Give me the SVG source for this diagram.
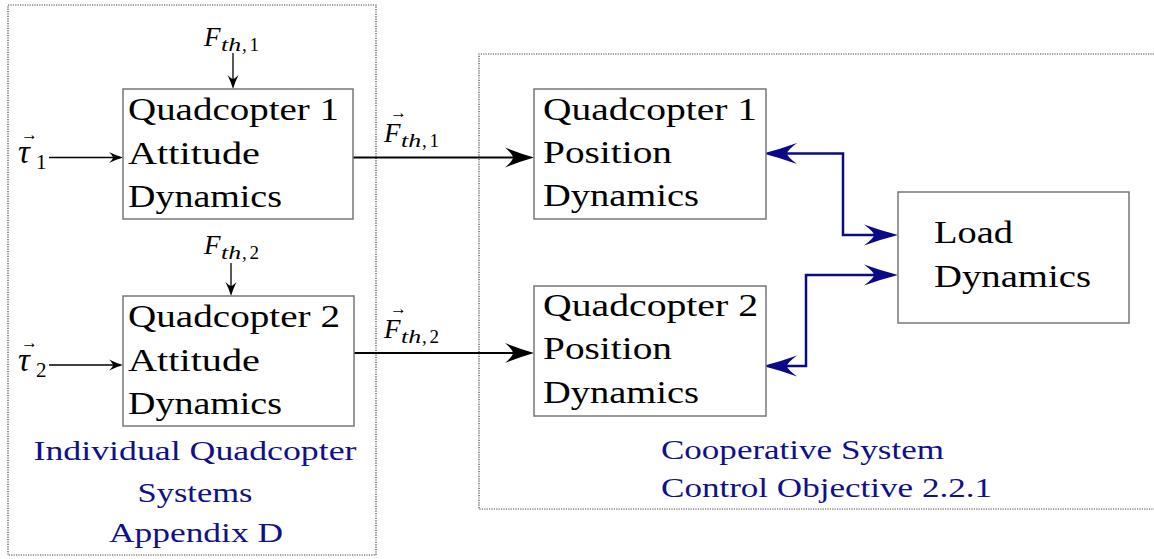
<svg xmlns="http://www.w3.org/2000/svg" width="1154" height="559" viewBox="0 0 1154 559" font-family="'Liberation Serif', serif">
<defs>
<style>
.box{fill:#fff;stroke:#777;stroke-width:1.5}
.frame{fill:none;stroke:#444;stroke-width:1.2;stroke-dasharray:1.2 1.2}
.t{font-size:31px;fill:#000}
.b{font-size:28px;fill:#10108a}
.m{font-style:italic;fill:#000}
.u{fill:#000}
.blk{fill:none;stroke:#000;stroke-width:2}
.thin{fill:none;stroke:#000;stroke-width:1.3}
.blu{fill:none;stroke:#0a0a88;stroke-width:2.5}
</style>
<marker id="big" viewBox="-32 -12 36 24" refX="-5" refY="0" markerWidth="36" markerHeight="24" markerUnits="userSpaceOnUse" orient="auto">
<path d="M0,0 Q-14,-4 -29,-10 Q-21,-3 -21,0 Q-21,3 -29,10 Q-14,4 0,0 Z" fill="#000"/>
</marker>
<marker id="small" viewBox="-16 -7 18 14" refX="-3" refY="0" markerWidth="18" markerHeight="14" markerUnits="userSpaceOnUse" orient="auto">
<path d="M0,0 Q-7,-2 -14,-5.5 Q-10,-1.5 -10,0 Q-10,1.5 -14,5.5 Q-7,2 0,0 Z" fill="#000"/>
</marker>
<marker id="blue" viewBox="-37 -13 40 26" refX="-6" refY="0" markerWidth="40" markerHeight="26" markerUnits="userSpaceOnUse" orient="auto-start-reverse">
<path d="M0,0 Q-16,-4 -34,-10.5 Q-24,-3 -24,0 Q-24,3 -34,10.5 Q-16,4 0,0 Z" fill="#0a0a88"/>
</marker>
</defs>
<rect width="1154" height="559" fill="#fff"/>

<g id="frames">
<rect class="frame" x="8" y="5" width="368" height="550"/>
<path class="frame" d="M1154,54 H479 V509 H1154"/>
</g>

<g id="connectors">
<line class="thin" x1="49" y1="157.5" x2="120" y2="157.5" marker-end="url(#small)"/>
<line class="thin" x1="49" y1="365" x2="120" y2="365" marker-end="url(#small)"/>
<line class="thin" x1="233" y1="53" x2="233" y2="86" marker-end="url(#small)"/>
<line class="thin" x1="231" y1="263" x2="231" y2="293" marker-end="url(#small)"/>
<line class="blk" x1="353" y1="157.5" x2="529" y2="157.5" marker-end="url(#big)"/>
<line class="blk" x1="354" y1="353" x2="529" y2="353" marker-end="url(#big)"/>
<polyline class="blu" points="769,153.5 843,153.5 843,235 892,235" marker-start="url(#blue)" marker-end="url(#blue)"/>
<polyline class="blu" points="769,366 806,366 806,275 892,275" marker-start="url(#blue)" marker-end="url(#blue)"/>
</g>

<g id="att1">
<rect class="box" x="123" y="89" width="230" height="130"/>
<text class="t" x="128" y="120" textLength="211" lengthAdjust="spacingAndGlyphs">Quadcopter 1</text>
<text class="t" x="128" y="164" textLength="132" lengthAdjust="spacingAndGlyphs">Attitude</text>
<text class="t" x="128" y="207" textLength="154" lengthAdjust="spacingAndGlyphs">Dynamics</text>
</g>

<g id="att2">
<rect class="box" x="123" y="296" width="231" height="130"/>
<text class="t" x="128" y="327" textLength="212" lengthAdjust="spacingAndGlyphs">Quadcopter 2</text>
<text class="t" x="128" y="371" textLength="132" lengthAdjust="spacingAndGlyphs">Attitude</text>
<text class="t" x="128" y="414" textLength="154" lengthAdjust="spacingAndGlyphs">Dynamics</text>
</g>

<g id="pos1">
<rect class="box" x="534" y="89" width="232" height="130"/>
<text class="t" x="543" y="120" textLength="214" lengthAdjust="spacingAndGlyphs">Quadcopter 1</text>
<text class="t" x="543" y="163" textLength="129" lengthAdjust="spacingAndGlyphs">Position</text>
<text class="t" x="543" y="206" textLength="156" lengthAdjust="spacingAndGlyphs">Dynamics</text>
</g>

<g id="pos2">
<rect class="box" x="534" y="286" width="232" height="130"/>
<text class="t" x="543" y="316" textLength="215" lengthAdjust="spacingAndGlyphs">Quadcopter 2</text>
<text class="t" x="543" y="359" textLength="129" lengthAdjust="spacingAndGlyphs">Position</text>
<text class="t" x="543" y="403" textLength="156" lengthAdjust="spacingAndGlyphs">Dynamics</text>
</g>

<g id="load">
<rect class="box" x="898" y="192" width="231" height="131"/>
<text class="t" x="934" y="243" textLength="79" lengthAdjust="spacingAndGlyphs">Load</text>
<text class="t" x="934" y="287" textLength="157" lengthAdjust="spacingAndGlyphs">Dynamics</text>
</g>

<g id="labels">
<text class="m" x="204" y="46" font-size="27">F</text>
<text class="m" x="221" y="51" font-size="19" textLength="20" lengthAdjust="spacingAndGlyphs">th</text>
<text class="u" x="242" y="51" font-size="19" textLength="17" lengthAdjust="spacing">,1</text>
<text class="m" x="204" y="254" font-size="27">F</text>
<text class="m" x="221" y="259" font-size="19" textLength="20" lengthAdjust="spacingAndGlyphs">th</text>
<text class="u" x="242" y="259" font-size="19" textLength="17" lengthAdjust="spacing">,2</text>

<text class="m" x="384" y="142" font-size="27">F</text>
<text class="m" x="401" y="147" font-size="19" textLength="20" lengthAdjust="spacingAndGlyphs">th</text>
<text class="u" x="422" y="147" font-size="19" textLength="17" lengthAdjust="spacing">,1</text>
<text class="u" x="390" y="118" font-size="17">→</text>
<text class="m" x="384" y="338" font-size="27">F</text>
<text class="m" x="401" y="343" font-size="19" textLength="20" lengthAdjust="spacingAndGlyphs">th</text>
<text class="u" x="422" y="343" font-size="19" textLength="17" lengthAdjust="spacing">,2</text>
<text class="u" x="390" y="314" font-size="17">→</text>

<text class="m" x="18" y="163" font-size="33">τ</text>
<text class="u" x="36" y="169" font-size="21">1</text>
<text class="u" x="21" y="140" font-size="17">→</text>
<text class="m" x="18" y="371" font-size="33">τ</text>
<text class="u" x="36" y="377" font-size="21">2</text>
<text class="u" x="21" y="348" font-size="17">→</text>
</g>

<g id="captions">
<text class="b" x="195" y="460" text-anchor="middle" textLength="323" lengthAdjust="spacingAndGlyphs">Individual Quadcopter</text>
<text class="b" x="195" y="502" text-anchor="middle" textLength="115" lengthAdjust="spacingAndGlyphs">Systems</text>
<text class="b" x="196" y="542" text-anchor="middle" textLength="174" lengthAdjust="spacingAndGlyphs">Appendix D</text>
<text class="b" x="661" y="459" textLength="283" lengthAdjust="spacingAndGlyphs">Cooperative System</text>
<text class="b" x="661" y="497" textLength="331" lengthAdjust="spacingAndGlyphs">Control Objective 2.2.1</text>
</g>
</svg>
